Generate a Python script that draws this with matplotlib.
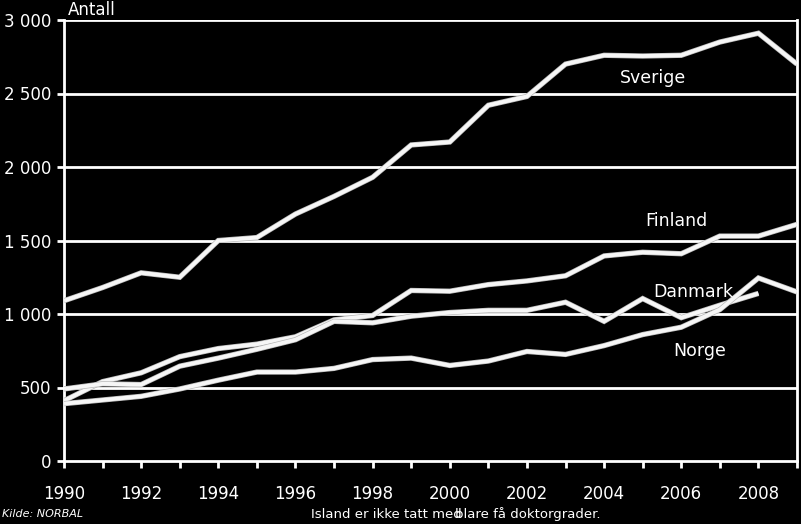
import matplotlib
matplotlib.use("Agg")
import matplotlib.pyplot as plt
import matplotlib.patheffects as pe

years = list(range(1990, 2010))
sverige = [1090, 1180, 1280, 1250, 1500, 1520, 1680, 1800, 1930, 2150,
           2170, 2420, 2480, 2700, 2760, 2755, 2760, 2850, 2910, 2700]
finland = [410, 540, 600, 710, 765, 795, 845, 960, 990, 1160,
           1155, 1200, 1225, 1260, 1395, 1420, 1410, 1530, 1530, 1610]
danmark_years = list(range(1990, 2009))
danmark = [490, 525, 520, 645, 700, 760, 825, 950, 940, 985,
           1010, 1025, 1025, 1080, 950, 1105, 975, 1060, 1140]
norge = [390, 415, 440, 490, 550, 605, 605, 630, 690, 700,
         650, 680, 745, 725, 785, 860, 910, 1030, 1245, 1150]

yticks = [0, 500, 1000, 1500, 2000, 2500, 3000]
ytick_labels = ["0", "500", "1 000", "1 500", "2 000", "2 500", "3 000"]
xticks_major = list(range(1990, 2009, 2))

plt.rcParams['font.family'] = ['DejaVu Sans']
fig = plt.figure(figsize=(8.01, 5.24), dpi=100, facecolor='black')
ax = fig.add_axes([64/801, (524-461)/524, (797-64)/801, (461-20)/524])
ax.set_facecolor('black')

for y in yticks[1:]:
    ax.axhline(y, color='white', lw=2, zorder=1)

eff = [pe.Stroke(linewidth=3.8, foreground='#b8b8b8'), pe.Normal()]
for xs, ys in [(years, sverige), (years, finland), (danmark_years, danmark), (years, norge)]:
    ax.plot(xs, ys, color='#f6f6f6', lw=2.8, zorder=3, path_effects=eff,
            solid_joinstyle='miter', solid_capstyle='butt')

ax.set_xlim(1990, 2009)
ax.set_ylim(0, 3000)
ax.set_yticks(yticks)
ax.set_yticklabels(ytick_labels)
ax.set_xticks(years, minor=False)
ax.set_xticklabels([str(y) if y in xticks_major else "" for y in years])
ax.tick_params(axis='both', colors='white', labelcolor='white', labelsize=12,
               width=2, length=5, direction='out')
ax.tick_params(axis='x', pad=12)
ax.tick_params(axis='y', pad=4)

for s in ['left', 'bottom', 'right']:
    ax.spines[s].set_color('white')
    ax.spines[s].set_linewidth(2)
ax.spines['top'].set_visible(False)

lab = dict(color='white', fontsize=12.5, ha='left', va='center')
ax.text(2004.42, 2605, "Sverige", **lab)
ax.text(2005.06, 1630, "Finland", **lab)
ax.text(2005.27, 1150, "Danmark", **lab)
ax.text(2005.79, 745, "Norge", **lab)

fig.text(68/801, 1 - 10/524, "Antall", color='white', fontsize=12, ha='left', va='center')
fig.text(2/801, 1 - 514/524, "Kilde: NORBAL", color='white', fontsize=8, style='italic',
         ha='left', va='center')
fig.text(311/801, 1 - 514/524, "Island er ikke tatt med", color='white', fontsize=9.5,
         ha='left', va='center')
fig.text(455/801, 1 - 514/524, "blare få doktorgrader.", color='white', fontsize=9.5,
         ha='left', va='center')

fig.savefig("out.png", dpi=100, facecolor='black')
